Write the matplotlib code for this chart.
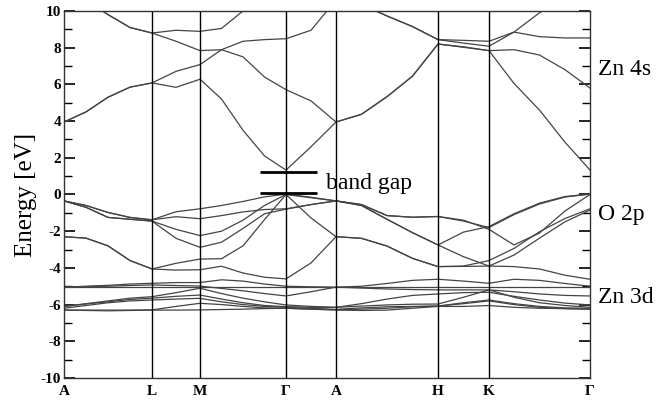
import numpy as np
import matplotlib
matplotlib.use("Agg")
import matplotlib.pyplot as plt
from matplotlib.ticker import MultipleLocator

plt.rcParams['font.family'] = ['Liberation Serif', 'DejaVu Serif']
plt.rcParams['axes.unicode_minus'] = False

# k-path (distance along path) and high-symmetry points
sym_labels = ['A', 'L', 'M', 'Γ', 'A', 'H', 'K', 'Γ']
sym_k = [0, 88, 136, 222, 272, 374, 425, 526]
kpath = [0, 22, 44, 66, 88, 112, 136, 157.5, 179, 200.5, 222, 247, 272,
         297.5, 323, 348.5, 374, 399.5, 425, 450, 475.5, 501, 526]

# conduction bands (eV)
c1 = [3.95, 4.5, 5.3, 5.85, 6.08, 5.84, 6.28, 5.2, 3.5, 2.1, 1.33, 2.6, 3.95,
      4.37, 5.33, 6.45, 8.2, 8.02, 7.84, 6.05, 4.6, 2.85, 1.33]
c2 = [3.95, 4.5, 5.3, 5.85, 6.08, 6.71, 7.08, 7.89, 8.35, 8.44, 8.49, 8.95, 10.6,
      10.35, 9.73, 9.15, 8.44, 8.25, 8.08, 8.85, 8.6, 8.53, 8.53]
c3 = [11.0, 10.6, 9.8, 9.1, 8.8, 8.35, 7.84, 7.89, 7.5, 6.4, 5.71, 5.1, 3.95,
      4.37, 5.33, 6.45, 8.2, 8.05, 7.84, 7.89, 7.6, 6.8, 5.8]
c4 = [11.0, 10.6, 9.8, 9.1, 8.8, 8.95, 8.89, 9.05, 10.0, 10.8, 11.2, 11.0, 10.6,
      10.35, 9.73, 9.15, 8.44, 8.4, 8.35, 8.85, 9.9, 10.8, 11.2]

# O 2p valence bands
o1 = [-0.35, -0.6, -0.98, -1.25, -1.38, -0.94, -0.78, -0.6, -0.38, -0.13, 0.02, -0.15, -0.35,
      -0.55, -1.15, -1.24, -1.2, -1.45, -1.8, -1.1, -0.52, -0.14, 0.02]
o2 = [-0.35, -0.6, -0.98, -1.25, -1.38, -1.21, -1.32, -1.15, -0.95, -0.82, -0.78, -0.55, -0.35,
      -0.6, -1.35, -2.08, -2.75, -2.05, -1.75, -1.05, -0.47, -0.11, 0.02]
o3 = [-0.35, -0.7, -1.25, -1.35, -1.45, -1.9, -2.24, -2.0, -1.4, -0.6, 0.0, -0.18, -0.35,
      -0.55, -1.15, -1.24, -1.2, -1.4, -1.9, -2.75, -2.1, -0.9, 0.0]
o4 = [-0.35, -0.7, -1.25, -1.35, -1.45, -2.39, -2.88, -2.6, -1.85, -1.05, -0.8, -0.55, -0.35,
      -0.6, -1.35, -2.08, -2.75, -3.39, -3.9, -3.3, -2.38, -1.49, -0.85]
o5 = [-2.3, -2.38, -2.8, -3.6, -4.06, -3.75, -3.52, -3.5, -2.8, -1.37, 0.0, -1.28, -2.3,
      -2.39, -2.81, -3.48, -3.93, -3.9, -3.6, -2.94, -2.03, -1.31, -0.78]
o6 = [-2.3, -2.38, -2.8, -3.6, -4.06, -4.12, -4.1, -3.91, -4.28, -4.51, -4.6, -3.73, -2.3,
      -2.39, -2.81, -3.48, -3.93, -3.92, -3.9, -3.93, -4.06, -4.4, -4.62]

# Zn 3d bands
d0 = [-5.05] * 23
d1 = [-5.05, -5.0, -4.95, -4.88, -4.84, -4.8, -4.8, -4.65, -4.72, -4.88, -5.0, -5.03, -5.05,
      -5.0, -4.85, -4.68, -4.62, -4.72, -4.84, -4.62, -4.68, -4.85, -5.0]
d2 = [-5.05, -5.02, -5.0, -4.96, -4.93, -4.96, -4.99, -5.12, -5.25, -5.4, -5.53, -5.3, -5.05,
      -5.1, -5.15, -5.18, -5.2, -5.2, -5.2, -5.3, -5.42, -5.5, -5.53]
d3 = [-6.1, -5.95, -5.8, -5.65, -5.57, -5.35, -5.11, -5.4, -5.65, -5.85, -6.02, -6.1, -6.15,
      -5.95, -5.7, -5.5, -5.42, -5.35, -5.33, -5.55, -5.75, -5.92, -6.02]
d4 = [-6.1, -5.97, -5.85, -5.72, -5.65, -5.55, -5.48, -5.7, -5.9, -6.05, -6.11, -6.15, -6.15,
      -6.08, -6.02, -5.98, -5.97, -5.6, -5.2, -5.6, -5.9, -6.05, -6.15]
d5 = [-6.2, -6.05, -5.9, -5.8, -5.75, -5.7, -5.66, -5.85, -6.0, -6.1, -6.15, -6.2, -6.26,
      -6.18, -6.12, -6.1, -6.08, -5.9, -5.75, -5.95, -6.1, -6.18, -6.2]
d6 = [-6.3, -6.3, -6.3, -6.3, -6.29, -6.1, -5.93, -6.0, -6.1, -6.18, -6.2, -6.25, -6.28,
      -6.25, -6.2, -6.12, -6.08, -5.95, -5.8, -6.0, -6.15, -6.22, -6.25]
d7 = [-6.3, -6.32, -6.34, -6.32, -6.3, -6.3, -6.29, -6.27, -6.25, -6.22, -6.2, -6.25, -6.3,
      -6.32, -6.3, -6.2, -6.1, -6.1, -6.05, -6.15, -6.2, -6.22, -6.25]

bands = [c1, c2, c3, c4, o1, o2, o3, o4, o5, o6, d0, d1, d2, d3, d4, d5, d6, d7]

fig = plt.figure(figsize=(6.69, 4.01), dpi=100)
ax = fig.add_axes([0.0957, 0.0574, 0.7862, 0.9152])

for b in bands:
    ax.plot(kpath, b, color='#444444', lw=0.9)

for k in sym_k[1:-1]:
    ax.axvline(k, color='black', lw=1.0)

# band gap markers
ax.plot([196, 253], [1.25, 1.25], color='black', lw=2.0, solid_capstyle='butt')
ax.plot([196, 253], [0.08, 0.08], color='black', lw=2.0, solid_capstyle='butt')
ax.text(262, 0.62, 'band gap', fontsize=17, va='center', ha='left')

ax.set_xlim(sym_k[0], sym_k[-1])
ax.set_ylim(-10, 10)
ax.set_xticks(sym_k)
ax.set_xticklabels(sym_labels, fontweight='bold', fontsize=11)
ax.tick_params(axis='x', length=0, pad=5)

ax.yaxis.set_major_locator(MultipleLocator(2))
ax.yaxis.set_minor_locator(MultipleLocator(1))
ax.tick_params(axis='y', which='major', direction='in', length=8, width=1.2,
               left=True, right=True, labelsize=11, pad=2)
ax.tick_params(axis='y', which='minor', direction='in', length=6, width=1.0,
               left=True, right=True)
for lab in ax.get_yticklabels():
    lab.set_fontweight('bold')

ax.set_ylabel('Energy [eV]', fontsize=18, labelpad=3)

for s in ax.spines.values():
    s.set_linewidth(1.0)
    s.set_color('#333333')

ax.text(1.015, 0.84, 'Zn 4s', transform=ax.transAxes, fontsize=17, va='center', ha='left')
ax.text(1.015, 0.445, 'O 2p', transform=ax.transAxes, fontsize=17, va='center', ha='left')
ax.text(1.015, 0.218, 'Zn 3d', transform=ax.transAxes, fontsize=17, va='center', ha='left')

fig.savefig('out.png', dpi=100)
